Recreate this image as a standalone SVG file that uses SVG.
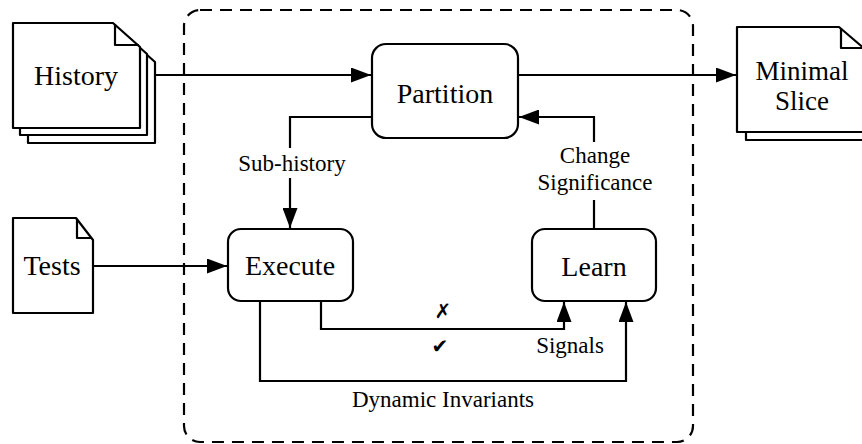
<svg xmlns="http://www.w3.org/2000/svg" width="862" height="444" viewBox="0 0 862 444">
<style>
.doc{fill:#fff;stroke:#000;stroke-width:2.2;stroke-linejoin:round}
.fold{fill:none;stroke:#000;stroke-width:2.2;stroke-linejoin:round}
.box{fill:#fff;stroke:#000;stroke-width:2.2}
.ln{fill:none;stroke:#000;stroke-width:2.2}
text{font-family:'Liberation Serif','Times New Roman',serif;text-anchor:middle;fill:#000}
.big{font-size:28px}
.mid{font-size:27px}
.sm{font-size:23px}
.sym{font-family:'DejaVu Sans',sans-serif;font-size:20px}
</style>
<defs>
<marker id="ah" viewBox="0 0 20 15" refX="20" refY="7.5" markerWidth="20" markerHeight="15" markerUnits="userSpaceOnUse" orient="auto">
<path d="M0,0 L20,7.5 L0,15 Z" fill="#000"/>
</marker>
</defs>

<g id="container">
<rect x="184" y="10" width="509" height="432" rx="16" ry="16" fill="none" stroke="#000" stroke-width="2.2" stroke-dasharray="12,8"/>
</g>

<g id="history">
<path class="doc" d="M28,38 H128 L155,62 V143 H28 Z"/>
<path class="doc" d="M20,30 H120 L147,54 V135 H20 Z"/>
<path class="doc" d="M13,23 H113 L140,47 V128 H13 Z"/>
<path class="fold" d="M115,24 V45 H139"/>
<text class="big" x="76" y="85">History</text>
</g>

<g id="tests">
<path class="doc" d="M13,218 H76 L93,240 V313 H13 Z"/>
<path class="fold" d="M77,219 V238 H92"/>
<text class="big" x="52" y="275">Tests</text>
</g>

<g id="minimal-slice">
<path class="doc" d="M746,35 H846 L873,58 V140 H746 Z"/>
<path class="doc" d="M737,27 H839 L866,50 V132 H737 Z"/>
<path class="fold" d="M841,28 V48 H866"/>
<text class="mid" x="802" y="80">Minimal</text>
<text class="mid" x="802" y="110">Slice</text>
</g>

<g id="partition">
<rect class="box" x="372" y="44" width="146" height="94" rx="14" ry="14"/>
<text class="big" x="445" y="103">Partition</text>
</g>

<g id="execute">
<rect class="box" x="228" y="229" width="125" height="72" rx="13" ry="13"/>
<text class="big" x="290" y="275">Execute</text>
</g>

<g id="learn">
<rect class="box" x="532" y="229" width="124" height="72" rx="13" ry="13"/>
<text class="big" x="594" y="276">Learn</text>
</g>

<g id="connectors">
<path class="ln" d="M155,75 H371" marker-end="url(#ah)"/>
<path class="ln" d="M518,75 H736" marker-end="url(#ah)"/>
<path class="ln" d="M93,266 H227" marker-end="url(#ah)"/>
<path class="ln" d="M372,117 H290 V148"/>
<path class="ln" d="M290,178 V228" marker-end="url(#ah)"/>
<path class="ln" d="M594,229 V200"/>
<path class="ln" d="M594,142 V117 H519" marker-end="url(#ah)"/>
<path class="ln" d="M321,301 V329 H564 V302" marker-end="url(#ah)"/>
<path class="ln" d="M260,301 V381 H626 V302" marker-end="url(#ah)"/>
<text class="sm" x="292" y="171">Sub-history</text>
<text class="sm" x="595" y="163">Change</text>
<text class="sm" x="595" y="190">Significance</text>
<text class="sym" x="443" y="318">✗</text>
<text class="sym" x="440" y="353">✔</text>
<text class="sm" x="570" y="353">Signals</text>
<text class="sm" x="443" y="407">Dynamic Invariants</text>
</g>
</svg>
